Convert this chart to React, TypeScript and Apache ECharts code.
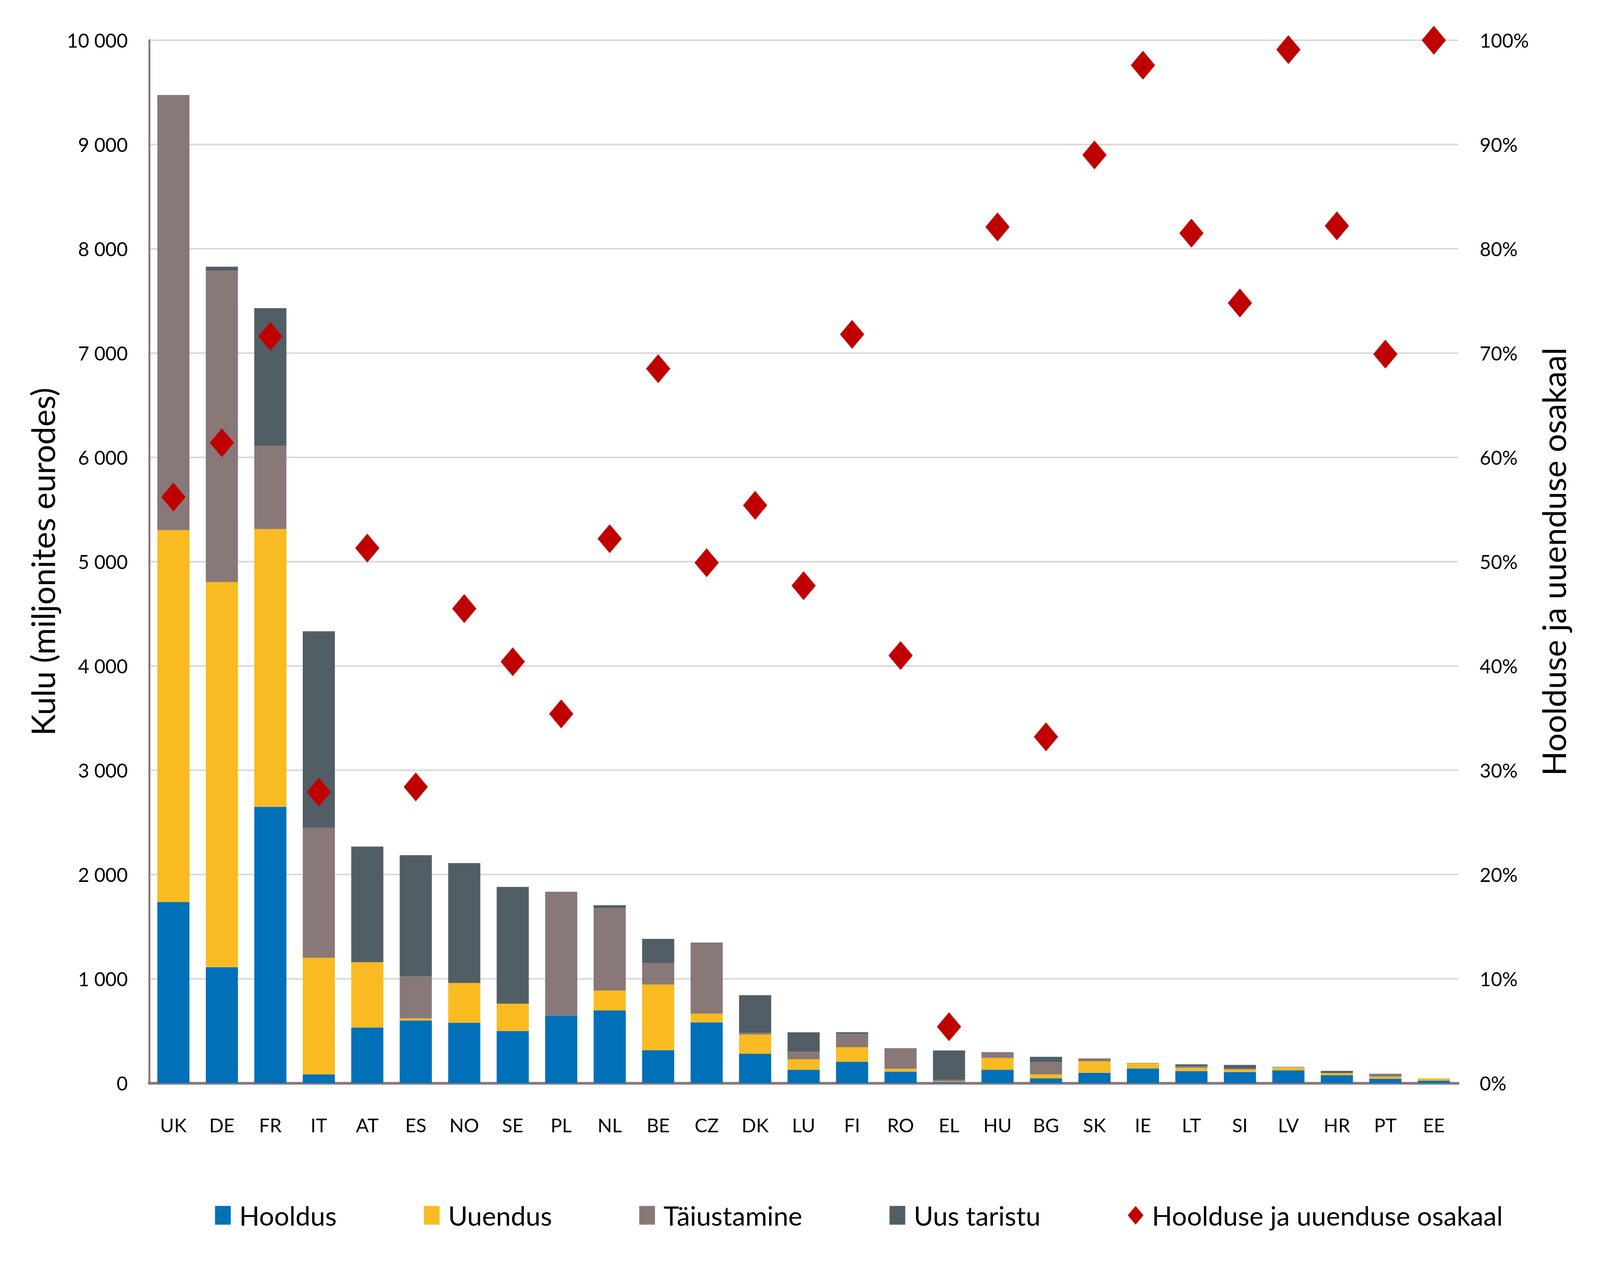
import React, { useEffect, useRef } from "react";
import * as echarts from "echarts";

const categories = ["UK","DE","FR","IT","AT","ES","NO","SE","PL","NL","BE","CZ","DK","LU","FI","RO","EL","HU","BG","SK","IE","LT","SI","LV","HR","PT","EE"];
const hooldus = [1737,1111,2649,84,533,600,579,498,645,697,316,582,281,128,205,110,10,128,45,98,140,115,105,123,76,42,23];
const uuendus = [3565,3694,2664,1118,626,21,381,263,0,191,629,85,184,100,140,28,7,114,38,112,48,32,25,28,20,20,22];
const taiustamine = [4173,2984,797,1245,0,402,0,0,1184,788,206,671,17,75,125,197,14,55,118,22,5,15,12,2,0,24,0];
const uusTaristu = [0,40,1321,1885,1109,1162,1150,1120,5,30,232,8,361,184,18,0,282,0,51,4,0,18,32,2,21,3,0];
const osakaal = [56.2,61.4,71.6,27.9,51.3,28.4,45.5,40.4,35.4,52.2,68.5,49.9,55.4,47.7,71.8,41.0,5.4,82.1,33.2,89.0,97.6,81.5,74.8,99.1,82.2,69.9,100];

const leftTicks = { min: 0, max: 10000, interval: 1000 };
const rightTicks = { min: 0, max: 100, interval: 10 };

const FONT = "Lato";
const C_H = "#0070b8";
const C_U = "#f9bb21";
const C_T = "#887878";
const C_N = "#525e66";
const C_D = "#c00000";
const C_AXIS = "#8a7a7b";

function fmtThousands(v: number): string {
  return String(v).replace(/\B(?=(\d{3})+(?!\d))/g, " ");
}

export default function App() {
  const ref = useRef<HTMLDivElement>(null);
  useEffect(() => {
    const el = ref.current;
    if (!el) return;
    const kx = el.clientWidth / 4881;
    const ky = el.clientHeight / 3249;
    const sx = (v: number) => v * kx;
    const sy = (v: number) => v * ky;
    const f = (v: number) => v * kx;
    const fr = (v: number) => v * ky;
    const chart = echarts.init(el, undefined, { renderer: "svg" });
    const barCommon = {
      type: "bar",
      stack: "total",
      barWidth: sx(98),
      yAxisIndex: 0,
    };
    chart.setOption({
      animation: false,
      backgroundColor: "#ffffff",
      textStyle: { fontFamily: FONT },
      grid: { left: sx(455), right: sx(433), top: sy(103), bottom: sy(476), containLabel: false },
      legend: {
        left: sx(650),
        top: sy(3107) - f(41),
        itemWidth: sx(48),
        itemHeight: sy(48),
        itemGap: sx(266),
        textStyle: { fontFamily: FONT, fontSize: f(81), color: "#000", padding: [0, 0, 0, sx(20)] },
        data: [
          { name: "Hooldus", icon: "rect" },
          { name: "Uuendus", icon: "rect" },
          { name: "Täiustamine", icon: "rect" },
          { name: "Uus taristu", icon: "rect" },
          { name: "Hoolduse ja uuenduse osakaal", icon: "diamond" },
        ],
      },
      xAxis: {
        type: "category",
        data: categories,
        axisLine: { show: true, lineStyle: { color: C_AXIS, width: sy(7) } },
        axisTick: { show: false },
        axisLabel: { interval: 0, margin: sy(82), fontSize: f(58), color: "#000", fontFamily: FONT },
      },
      yAxis: [
        {
          type: "value",
          min: leftTicks.min,
          max: leftTicks.max,
          interval: leftTicks.interval,
          name: "Kulu (miljonites eurodes)",
          nameLocation: "middle",
          nameGap: sx(276),
          nameRotate: 90,
          nameTextStyle: { fontSize: fr(83), color: "#000", fontFamily: FONT },
          axisLine: { show: true, lineStyle: { color: C_AXIS, width: sx(6) } },
          axisTick: { show: false },
          axisLabel: { margin: sx(65), fontSize: f(59), color: "#000", fontFamily: FONT, formatter: (v: number) => fmtThousands(v) },
          splitLine: { show: true, lineStyle: { color: "#d9d9d9", width: sy(4) } },
        },
        {
          type: "value",
          min: rightTicks.min,
          max: rightTicks.max,
          interval: rightTicks.interval,
          position: "right",
          name: "Hoolduse ja uuenduse osakaal",
          nameLocation: "middle",
          nameGap: sx(242),
          nameRotate: 90,
          nameTextStyle: { fontSize: fr(83), color: "#000", fontFamily: FONT },
          axisLine: { show: false },
          axisTick: { show: false },
          axisLabel: { margin: sx(66), fontSize: f(59), color: "#000", fontFamily: FONT, formatter: "{value}%" },
          splitLine: { show: false },
        },
      ],
      series: [
        { ...barCommon, name: "Hooldus", data: hooldus, itemStyle: { color: C_H } },
        { ...barCommon, name: "Uuendus", data: uuendus, itemStyle: { color: C_U } },
        { ...barCommon, name: "Täiustamine", data: taiustamine, itemStyle: { color: C_T } },
        { ...barCommon, name: "Uus taristu", data: uusTaristu, itemStyle: { color: C_N } },
        {
          type: "scatter",
          name: "Hoolduse ja uuenduse osakaal",
          yAxisIndex: 1,
          data: osakaal,
          symbol: "diamond",
          symbolSize: [sx(74), sy(74)],
          itemStyle: { color: C_D, opacity: 1 },
          z: 10,
        },
      ],
    });
    return () => chart.dispose();
  }, []);
  return <div ref={ref} style={{ position: "fixed", left: 0, top: 0, width: "100vw", height: "100vh" }} />;
}
